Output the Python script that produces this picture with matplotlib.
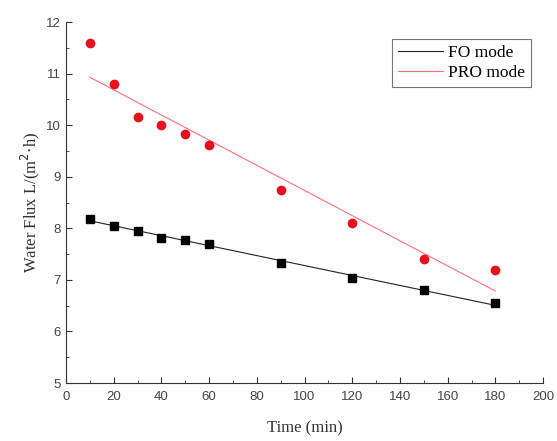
import numpy as np
import matplotlib
matplotlib.use("Agg")
import matplotlib.pyplot as plt
from matplotlib.ticker import MultipleLocator

# data
time_min = [10, 20, 30, 40, 50, 60, 90, 120, 150, 180]
fo_flux = [8.18, 8.05, 7.95, 7.82, 7.78, 7.70, 7.33, 7.03, 6.80, 6.55]
pro_flux = [11.60, 10.80, 10.15, 10.00, 9.82, 9.62, 8.75, 8.10, 7.40, 7.20]

fig = plt.figure(figsize=(5.57, 4.41), dpi=100)
ax = fig.add_axes([0.1185, 0.1315, 0.8565, 0.8185])

x = np.array(time_min)
# linear fits drawn as lines, raw data as markers
for y, col, lab in [(fo_flux, "#222222", "FO mode"),
                    (pro_flux, "#ff6f7f", "PRO mode")]:
    k, b = np.polyfit(x, y, 1)
    ax.plot(x, k * x + b, color=col, lw=0.8, label=lab)
ax.plot(x, fo_flux, "s", color="black", ms=5.5, ls="none")
ax.plot(x, pro_flux, "o", color="#e8101e", ms=6, ls="none")

ax.set_xlim(0, 200)
ax.set_ylim(5, 12)
ax.xaxis.set_major_locator(MultipleLocator(20))
ax.xaxis.set_minor_locator(MultipleLocator(10))
ax.yaxis.set_major_locator(MultipleLocator(1))
ax.yaxis.set_minor_locator(MultipleLocator(0.5))
ax.tick_params(which="both", direction="in", color="#333333", labelsize=9.5,
               labelcolor="#444444")
ax.tick_params(which="major", length=4)
ax.tick_params(which="minor", length=2)
ax.tick_params(axis="x", pad=6)
for lbl in ax.get_xticklabels() + ax.get_yticklabels():
    lbl.set_family("Liberation Sans")
ax.spines["top"].set_visible(False)
ax.spines["right"].set_visible(False)
ax.spines["left"].set_color("#333333")
ax.spines["bottom"].set_color("#333333")

ax.set_xlabel("Time (min)", family="Liberation Serif", fontsize=12,
              color="#333333", labelpad=12)
ax.set_ylabel("Water Flux L/(m$^2$$\\cdot$h)", family="Liberation Serif",
              fontsize=12, color="#333333", labelpad=3)

leg = ax.legend(loc="upper right", bbox_to_anchor=(0.993, 0.978), fancybox=False,
                edgecolor="#555555", prop={"family": "Liberation Serif", "size": 12.5},
                handlelength=2.6, borderpad=0.35, labelspacing=0.25, handletextpad=0.3)
leg.get_frame().set_linewidth(0.8)

fig.savefig("out.png", dpi=100)
